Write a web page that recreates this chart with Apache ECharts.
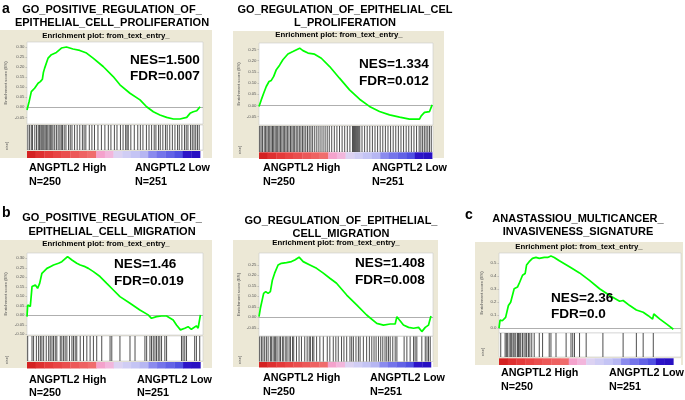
<!DOCTYPE html>
<html><head><meta charset="utf-8">
<script src="https://cdn.jsdelivr.net/npm/echarts@6/dist/echarts.min.js"></script>
<style>html,body{margin:0;padding:0;background:#fff}#c{width:685px;height:400px}</style>
</head><body><div id="c"></div>
<script>
// ---------------- DATA ----------------
const a1Title = ['GO_POSITIVE_REGULATION_OF_', 'EPITHELIAL_CELL_PROLIFERATION'];
const a2Title = ['GO_REGULATION_OF_EPITHELIAL_CEL', 'L_PROLIFERATION'];
const b1Title = ['GO_POSITIVE_REGULATION_OF_', 'EPITHELIAL_CELL_MIGRATION'];
const b2Title = ['GO_REGULATION_OF_EPITHELIAL_', 'CELL_MIGRATION'];
const cTitle = ['ANASTASSIOU_MULTICANCER_', 'INVASIVENESS_SIGNATURE'];
const a1Stats = ['NES=1.500', 'FDR=0.007'];
const a2Stats = ['NES=1.334', 'FDR=0.012'];
const b1Stats = ['NES=1.46', 'FDR=0.019'];
const b2Stats = ['NES=1.408', 'FDR=0.008'];
const cStats = ['NES=2.36', 'FDR=0.0'];
const groupLabels = [['ANGPTL2 High', 'N=250'], ['ANGPTL2 Low', 'N=251']];
const headerText = 'Enrichment plot: from_text_entry_';
const yAxisName = 'Enrichment score (ES)';

// rank position (% of ranked list) and running enrichment score
const a1Rank = [0,1.2,2.5,4.4,6.4,7.7,8.9,9.5,10.2,12.2,14.1,17,19.9,22.8,26.6,30.5,34.4,38.2,44,49.8,53.7,59.5,65.3,69.1,73,76.8,80.7,84.6,88.4,92.3,94.2,96.1,98.1,100];
const a1ES = [-0.013,0.028,0.078,0.095,0.12,0.128,0.14,0.175,0.195,0.245,0.262,0.273,0.295,0.30,0.29,0.283,0.27,0.245,0.203,0.153,0.112,0.07,0.037,0.003,-0.022,-0.038,-0.05,-0.058,-0.058,-0.05,-0.03,-0.022,-0.017,0.003];
const a2Rank = [0,1.3,2.7,4.2,5.8,7.1,8.5,10,11.9,13.8,16.7,19.6,23.5,25.4,28.3,32.1,36,40.8,46.5,52.3,58.1,63.8,69.6,75.4,81.2,86.9,92.7,93.7,95.6,98.5,100];
const a2ES = [-0.004,0.025,0.055,0.085,0.107,0.112,0.13,0.16,0.18,0.204,0.23,0.241,0.256,0.245,0.234,0.229,0.211,0.174,0.122,0.07,0.028,-0.004,-0.027,-0.042,-0.052,-0.061,-0.061,-0.046,-0.031,-0.027,0.003];
const b1Rank = [0,0.4,1.9,2.9,4.8,6.1,7.3,8.6,11.5,13.4,15.3,18.2,20.1,21.1,23.4,25.9,28.7,30.7,33.5,35.4,38.3,42.1,46,49.8,53.6,59.4,65.1,69.9,71.8,74.7,77.6,80.5,81.4,84.3,86.2,88.5,91,92.9,94.8,97.7,98.7,100];
const b1ES = [-0.007,0.054,0.046,0.151,0.16,0.142,0.168,0.221,0.247,0.256,0.265,0.274,0.282,0.291,0.309,0.291,0.274,0.265,0.256,0.247,0.23,0.204,0.168,0.133,0.098,0.063,0.028,0.002,-0.016,-0.007,-0.004,-0.004,0.002,-0.025,-0.051,-0.077,-0.068,-0.06,-0.074,-0.056,-0.068,0.002];
const b2Rank = [0,0.8,1.9,2.7,3.9,5.3,6.6,7.8,9.1,11.1,13,16,18.9,20.8,23.3,25.7,29.6,33.5,37.4,41.2,45.1,51,56.8,62.6,68.5,72.4,76.3,79.2,80.2,81.7,84,87,89.9,92.8,94.7,96.7,98.6,100];
const b2ES = [0.003,0.043,0.05,0.114,0.122,0.114,0.122,0.178,0.21,0.249,0.257,0.26,0.265,0.273,0.286,0.265,0.249,0.233,0.21,0.186,0.162,0.106,0.059,0.011,-0.029,-0.037,-0.032,-0.032,0.003,-0.013,-0.037,-0.048,-0.052,-0.048,-0.068,-0.048,-0.037,0.006];
const cRank = [0,0.6,1.9,2.9,3.8,4.8,5.4,6.7,7.7,8.7,10.6,11.5,12.5,13.5,15,15.8,17.3,19.2,21.2,23.1,26,27.9,29.8,31.7,34.6,40.4,46.2,51.9,57.7,63.5,69.2,71.2,75,78.8,82.7,85.6,88.1,88.8,92.3,96.2,100];
const cES = [0,0.062,0.057,0.044,0.083,0.096,0.174,0.2,0.213,0.303,0.316,0.342,0.355,0.407,0.42,0.485,0.511,0.537,0.544,0.537,0.544,0.544,0.555,0.544,0.518,0.472,0.425,0.368,0.303,0.251,0.207,0.213,0.174,0.14,0.122,0.096,0.07,0.109,0.07,0.031,-0.008];

// gene-set hit positions (% of ranked list)
const a1Hits = [0.5,1.5,2.5,3.2,4.5,5.5,6.5,7.2,8,8.6,9.2,9.8,10.5,11.2,12,12.8,13.5,14.3,15,16,17,18,19,19.8,20.5,21.5,22.5,24,25,26,27.5,29,30.5,32,33,34,36,37.5,39,41,43,45,47,48.5,50.5,52,54,55.5,57,57.8,58.5,60,62,64,65.5,67,69,70.5,72,73.5,74.5,76,77,78.5,80,81,82.5,84,85.5,87,88,89.5,91,92,93,94.5,95.5,96.5,97.5,98.5,99.5];
const a2Hits = [0.4,1.2,2,3,3.8,4.6,5.4,6.2,7,7.8,8.5,9.3,10,10.8,11.6,12.4,13.2,14,14.8,15.6,16.4,17.3,18.2,19,19.8,20.6,21.5,22.4,23.3,24.2,25.1,26,27,28,29,30,31,32.2,33.4,34.6,35.8,37,38.2,39.4,40.6,42,43.5,45,46.5,48,49.5,51,52.5,54,54.6,55.2,55.8,56.4,57,57.6,58.2,59.5,61,62.5,64,65.5,67,68.5,70,71.5,73,74.5,76,77.5,79,80.5,82,83.5,85,86.5,88,89.5,91,92.5,93.5,94.5,95.5,96.5,97.5,98.5,99.5];
const b1Hits = [0.4,2.9,3.8,5.4,6.7,7.7,8.6,9.6,11.1,12.5,13.4,14.4,15.3,16.3,17.2,19.2,20.1,21.1,22,23,24.5,25.9,26.8,27.8,28.7,30.7,32.6,34.5,36.4,38.3,40.2,43.1,47.9,48.9,53.6,59.4,62.3,68,69,70.9,71.8,72.8,73.8,74.7,75.7,76.6,77.6,79.5,80.5,89.1,90,91,92,96.7,97.7,99.6];
const b2Hits = [0.4,1.4,2.3,3.3,4.3,5.3,6.6,7.2,8.2,9.1,9.7,10.5,11.7,12.5,13.6,14.4,15.6,16.3,17.5,18.3,19.5,20.2,21.8,23.3,24.7,26.6,28,29.2,29.9,31.1,31.9,33.5,35.4,37.4,39.7,41.2,43.2,44.7,46.1,48,49.4,51,52.9,53.9,54.9,56.4,57.8,58.8,60.7,62.6,64.2,65.6,66.9,68.1,69.5,70.8,72,73.3,74.3,75.3,76.3,77.8,79.2,80.2,84.4,86,87.9,89.9,90.8,91.8,94.7,96.7,97.7,98.6,99.6];
const cHits = [1,3.5,4.2,4.8,5.8,6.7,7.3,8.1,8.7,9.6,10.6,11.2,11.9,12.5,13.5,14.4,15.4,15.9,16.9,17.7,18.8,20.2,23.1,25,28.8,29.8,32.7,38.5,41.3,42.3,43.3,46.2,50,59.6,71.2,78.8,82.7,88.5];

// y tick labels
const a1Ticks = [-0.05,0,0.05,0.1,0.15,0.2,0.25,0.3];
const a2Ticks = [-0.05,0,0.05,0.1,0.15,0.2,0.25];
const b1Ticks = [-0.1,-0.05,0,0.05,0.1,0.15,0.2,0.25,0.3];
const b2Ticks = [-0.05,0,0.05,0.1,0.15,0.2,0.25];
const cTicks = [0,0.1,0.2,0.3,0.4,0.5];

// ranked-list colour bar segment edges (% of ranked list)
const barEdges = [0,5,10,15,20,25,30,35,40,45,50,55,60,65,70,75,80,85,90,95,100];

// ---------------- STYLE / LAYOUT ----------------
const BAR_COLORS = ['#d42222','#de3030','#e43a3a','#e84444','#ea4e4e','#ec5858','#ee6262','#f06c6c',
  '#f4a2cc','#f2b6dc','#dcd2f2','#d0cdf4','#c4c4f4','#b6b6f2','#8a8aee','#7474ea','#6262e6','#5050e2','#2c14c8','#2810c2'];
const BEIGE = '#ece8d6';
const FONT = '"Liberation Sans", Arial, sans-serif';

const panels = [
  {rank:a1Rank, es:a1ES, hits:a1Hits, ticks:a1Ticks, title:a1Title, stats:a1Stats, dec:2,
   box:[0,30,212,128], L:27, W:176, esTop:42, esH:82, hitTop:125, hitH:25, barTop:151, barH:7,
   xMax:101.7, yMin:-0.083, yMax:0.325, titleX:112, titleY:[10,23], headerX:106, headerY:36,
   nes:[130,60,76], labY:[168,182], labX:[29,135], nameGap:19, oise:[7,146], letter:['a',2,9]},
  {rank:a2Rank, es:a2ES, hits:a2Hits, ticks:a2Ticks, title:a2Title, stats:a2Stats, dec:2,
   box:[233,31,211,127], L:259, W:174, esTop:43, esH:82, hitTop:126, hitH:26, barTop:152.3, barH:6.7,
   xMax:100.5, yMin:-0.087, yMax:0.279, titleX:345, titleY:[10,23], headerX:339, headerY:35,
   nes:[359,64,81], labY:[168,182], labX:[263,372], nameGap:18, oise:[240,150], letter:null},
  {rank:b1Rank, es:b1ES, hits:b1Hits, ticks:b1Ticks, title:b1Title, stats:b1Stats, dec:2,
   box:[0,240,212,128], L:27, W:176, esTop:253, esH:82, hitTop:336, hitH:25, barTop:362, barH:6.5,
   xMax:101.5, yMin:-0.104, yMax:0.328, titleX:112, titleY:[218,232], headerX:106, headerY:244,
   nes:[114,264,281], labY:[380,393], labX:[29,137], nameGap:19, oise:[7,360], letter:['b',2,213]},
  {rank:b2Rank, es:b2ES, hits:b2Hits, ticks:b2Ticks, title:b2Title, stats:b2Stats, dec:2,
   box:[233,240,205,127], L:259, W:174, esTop:253, esH:83, hitTop:336.5, hitH:25, barTop:362, barH:5.5,
   xMax:101.2, yMin:-0.089, yMax:0.306, titleX:341, titleY:[221,234], headerX:336, headerY:243,
   nes:[355,263,280], labY:[378,392], labX:[263,370], nameGap:18, oise:[240,360], letter:null},
  {rank:cRank, es:cES, hits:cHits, ticks:cTicks, title:cTitle, stats:cStats, dec:1,
   box:[475,242,208,123], L:499, W:182, esTop:253, esH:80, hitTop:333, hitH:24, barTop:358.3, barH:6.7,
   xMax:104.4, yMin:-0.037, yMax:0.578, titleX:578, titleY:[219,232], headerX:579, headerY:247,
   nes:[551,298,314], labY:[373,387], labX:[501,609], nameGap:15, oise:[483,352], letter:['c',465,215]}
];

const grids = [], xAxes = [], yAxes = [], series = [], graphics = [];

function txt(text, x, y, size, opts) {
  opts = opts || {};
  return {type:'text', z:20, rotation: opts.rotation || 0, x: x, y: y,
    style:{text:text, x:0, y:0, fontSize:size, fontWeight:opts.weight || 'bold', fontFamily:FONT,
      fill: opts.fill || '#000', align: opts.align || 'left', textAlign: opts.align || 'left',
      verticalAlign:'middle', textVerticalAlign:'middle'}};
}

panels.forEach((p, i) => {
  graphics.push({type:'rect', z:-5, shape:{x:p.box[0], y:p.box[1], width:p.box[2], height:p.box[3]},
    style:{fill:BEIGE}});
  graphics.push(txt(headerText, p.headerX, p.headerY, 7.8, {align:'center'}));
  graphics.push(txt(p.title[0], p.titleX, p.titleY[0], 11, {align:'center'}));
  graphics.push(txt(p.title[1], p.titleX, p.titleY[1], 11, {align:'center'}));
  graphics.push(txt(p.stats[0], p.nes[0], p.nes[1], 13.6));
  graphics.push(txt(p.stats[1], p.nes[0], p.nes[2], 13.6));
  graphics.push(txt(groupLabels[0][0], p.labX[0], p.labY[0], 10.8));
  graphics.push(txt(groupLabels[0][1], p.labX[0], p.labY[1], 10.8));
  graphics.push(txt(groupLabels[1][0], p.labX[1], p.labY[0], 10.8));
  graphics.push(txt(groupLabels[1][1], p.labX[1], p.labY[1], 10.8));
  graphics.push(txt('oise)', p.oise[0], p.oise[1], 4, {weight:'normal', fill:'#555', align:'center', rotation:Math.PI/2}));
  if (p.letter) graphics.push(txt(p.letter[0], p.letter[1], p.letter[2], 14));

  const g = i * 3;
  grids.push({left:p.L, top:p.esTop, width:p.W, height:p.esH, show:true, backgroundColor:'#fff', borderColor:'#c9c9c9', borderWidth:0.6, z:1});
  grids.push({left:p.L, top:p.hitTop, width:p.W, height:p.hitH, show:true, backgroundColor:'#fff', borderColor:'#c9c9c9', borderWidth:0.6, z:1});
  grids.push({left:p.L, top:p.barTop, width:p.W, height:p.barH, show:true, backgroundColor:'#fff', borderWidth:0, z:1});
  for (let k = 0; k < 3; k++) {
    xAxes.push({type:'value', gridIndex:g + k, min:0, max:p.xMax, show:false});
  }
  yAxes.push({type:'value', gridIndex:g, min:p.yMin, max:p.yMax,
    axisLine:{show:false}, splitLine:{show:false},
    axisTick:{show:true, customValues:p.ticks, length:1.5, lineStyle:{color:'#888', width:0.5}},
    axisLabel:{customValues:p.ticks, fontSize:4.3, color:'#555', margin:2.5, fontFamily:FONT,
      formatter:v => v.toFixed(p.dec)},
    name:yAxisName, nameLocation:'middle', nameGap:p.nameGap, nameRotate:90,
    nameTextStyle:{fontSize:4.3, color:'#555', fontFamily:FONT}});
  yAxes.push({type:'value', gridIndex:g + 1, min:0, max:1, show:false});
  yAxes.push({type:'value', gridIndex:g + 2, min:0, max:1, show:false});

  series.push({type:'line', xAxisIndex:g, yAxisIndex:g, data:p.rank.map((r, j) => [r, p.es[j]]),
    showSymbol:false, symbol:'none', animation:false, z:5,
    lineStyle:{color:'#00ff00', width:1.7},
    markLine:{silent:true, symbol:'none', animation:false, label:{show:false},
      lineStyle:{color:'#9a9a9a', width:0.8, type:'solid'}, data:[{yAxis:0}]}});
  series.push({type:'custom', xAxisIndex:g + 1, yAxisIndex:g + 1, animation:false,
    data:p.hits.map(h => [h, 0]),
    renderItem:(params, api) => {
      const x = api.coord([api.value(0), 0])[0];
      const cs = params.coordSys;
      return {type:'line', shape:{x1:x, y1:cs.y, x2:x, y2:cs.y + cs.height},
        style:{stroke:'#222', lineWidth:0.8}};
    }});
  series.push({type:'custom', xAxisIndex:g + 2, yAxisIndex:g + 2, animation:false,
    data:barEdges.slice(0, -1).map((e, j) => [e, barEdges[j + 1], j]),
    renderItem:(params, api) => {
      const x0 = api.coord([api.value(0), 0])[0];
      const x1 = api.coord([api.value(1), 0])[0];
      const cs = params.coordSys;
      return {type:'rect', shape:{x:x0, y:cs.y, width:x1 - x0 + 0.3, height:cs.height},
        style:{fill:BAR_COLORS[api.value(2)]}};
    }});
});

const chart = echarts.init(document.getElementById('c'), null, {renderer:'canvas'});
chart.setOption({
  animation:false,
  backgroundColor:'#fff',
  grid:grids, xAxis:xAxes, yAxis:yAxes, series:series,
  graphic:{elements:graphics}
});
</script>
</body></html>
